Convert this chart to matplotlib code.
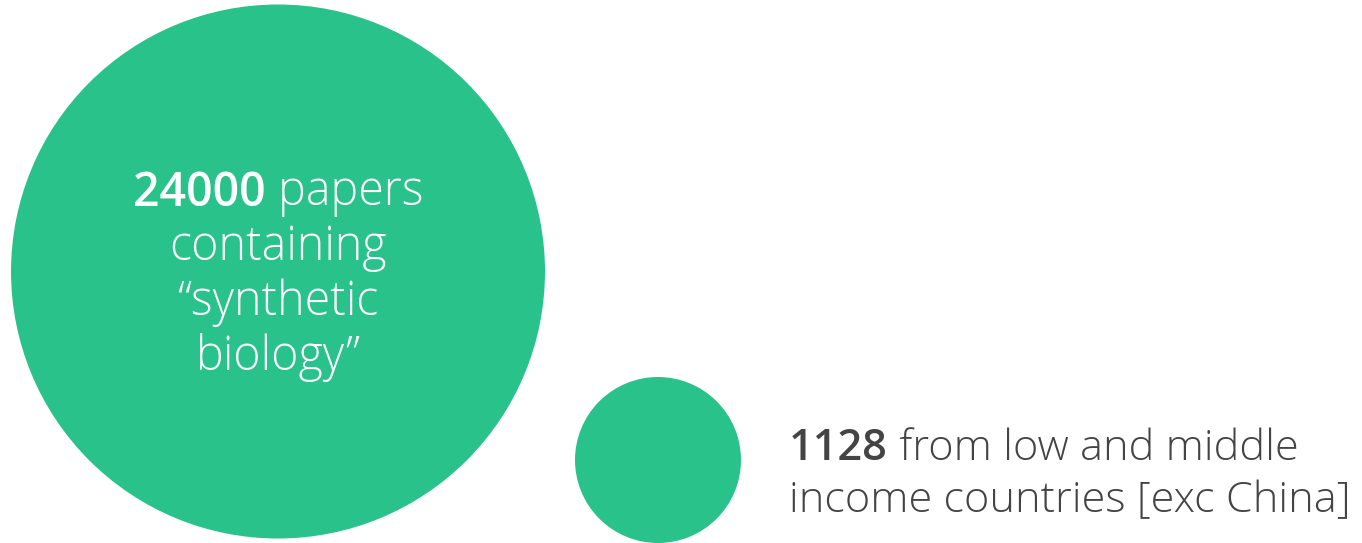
import matplotlib
matplotlib.use("Agg")
import matplotlib.pyplot as plt
from matplotlib.patches import Circle

# data
values = [24000, 1128]
bold_labels = ["24000", "1128"]
big_lines = [" papers", "containing", "\u201csynthetic", "biology\u201d"]
small_lines = [" from low and middle", "income countries [exc China]"]

GREEN = "#29c28a"
GREY = "#444444"
FONT = "Open Sans"
LIGHT = "light"

fig = plt.figure(figsize=(13.62, 5.43), dpi=100)
ax = fig.add_axes([0, 0, 1, 1])
ax.set_xlim(0, 1362)
ax.set_ylim(543, 0)
ax.set_aspect("equal")
ax.axis("off")

# circles (centre x, centre y, radius) in pixel space
circles = [(278, 271.5, 267), (658, 460, 83)]
for (cx, cy, r), v in zip(circles, values):
    ax.add_patch(Circle((cx, cy), r, color=GREEN, lw=0))

renderer = fig.canvas.get_renderer()


def width_px(s, size, weight):
    t = ax.text(0, 0, s, fontsize=size, fontweight=weight, family=FONT)
    w = t.get_window_extent(renderer).width
    t.remove()
    return w


# pick sizes so the line widths match the reference
size_big = 10 * 217 / width_px(big_lines[1], 10, LIGHT)
size_small = 10 * 560 / width_px(small_lines[1], 10, LIGHT)

# big circle text, centred
y0, step = 193, 55
wb = width_px(bold_labels[0], size_big, "semibold")
wl = width_px(big_lines[0], size_big, LIGHT)
x_start = circles[0][0] - (wb + wl) / 2
ax.text(x_start, y0, bold_labels[0], fontsize=size_big, fontweight="semibold",
        family=FONT, color="white", va="center", ha="left")
ax.text(x_start + wb, y0, big_lines[0], fontsize=size_big, fontweight=LIGHT,
        family=FONT, color="white", va="center", ha="left")
for i, line in enumerate(big_lines[1:], start=1):
    ax.text(circles[0][0], y0 + i * step, line, fontsize=size_big,
            fontweight=LIGHT, family=FONT, color="white",
            va="center", ha="center")

# small circle label, left aligned
x1, y1, step1 = 789, 449, 52
wb2 = width_px(bold_labels[1], size_small, "semibold")
ax.text(x1, y1, bold_labels[1], fontsize=size_small, fontweight="semibold",
        family=FONT, color=GREY, va="center", ha="left")
ax.text(x1 + wb2, y1, small_lines[0], fontsize=size_small, fontweight=LIGHT,
        family=FONT, color=GREY, va="center", ha="left")
ax.text(x1, y1 + step1, small_lines[1], fontsize=size_small, fontweight=LIGHT,
        family=FONT, color=GREY, va="center", ha="left")

fig.savefig("out.png", dpi=100)
